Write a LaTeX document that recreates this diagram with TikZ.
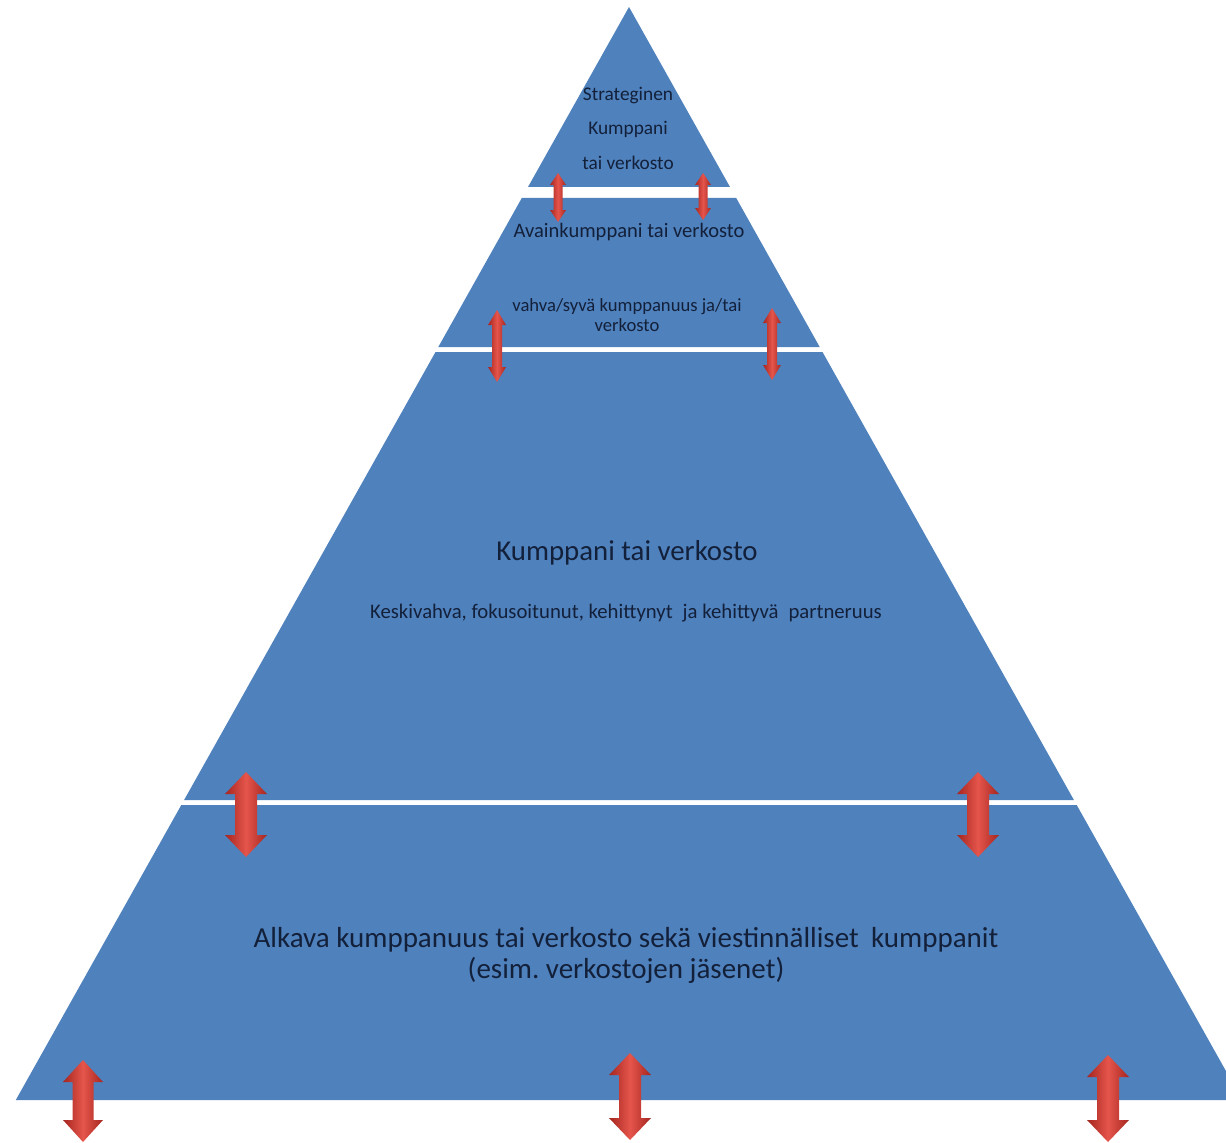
\documentclass[tikz,border=0pt]{standalone}
\usepackage{fontspec}
\setmainfont{Carlito}
\frenchspacing
\definecolor{pyrblue}{HTML}{4F81BD}
\definecolor{txtblue}{HTML}{13203A}
\definecolor{arrdark}{HTML}{A52620}
\definecolor{arrlight}{HTML}{E5554B}
\tikzset{
  layer/.style={fill=pyrblue},
  arrowfill/.style={left color=arrdark, right color=arrdark, middle color=arrlight},
  txt/.style={text=txtblue, inner sep=0pt, align=center},
}
% centre x, top y, bottom y, half head width, half shaft width, head length (pixel units, y downwards)
\newcommand\dblarrow[6]{%
  \shade[arrowfill] (#1,-#2) -- (#1+#4,-#2-#6) -- (#1+#5,-#2-#6) -- (#1+#5,-#3+#6) -- (#1+#4,-#3+#6)
    -- (#1,-#3) -- (#1-#4,-#3+#6) -- (#1-#5,-#3+#6) -- (#1-#5,-#2-#6) -- (#1-#4,-#2-#6) -- cycle;}
\begin{document}
\begin{tikzpicture}[x=0.02cm,y=0.02cm]
\useasboundingbox (0,0) rectangle (1226,-1142);
\clip (0,0) rectangle (1226,-1142);
% layers (half width = 0.561*(y-7))
\fill[layer] (629,-7) -- (730,-187) -- (528,-187) -- cycle;
\fill[layer] (521.8,-198) -- (736.2,-198) -- (819.7,-347) -- (438.3,-347) -- cycle;
\fill[layer] (435.5,-352) -- (822.5,-352) -- (1073.9,-800) -- (184.1,-800) -- cycle;
\fill[layer] (181.3,-805) -- (1076.7,-805) -- (1242.2,-1100) -- (15.8,-1100) -- cycle;
% texts
\node[txt, font=\fontsize{11}{19.6}\selectfont] (t1) at (628,-128) {Strateginen\\Kumppani\\tai verkosto};
\node[txt, font=\fontsize{11.7}{13}\selectfont] (t2) at (629,-232) {Avainkumppani tai verkosto};
\node[txt, font=\fontsize{10.6}{11.4}\selectfont] (t3) at (627,-315) {vahva/syvä kumppanuus ja/tai\\verkosto};
\node[txt, font=\fontsize{16.4}{18}\selectfont] (t4) at (627,-553) {Kumppani tai verkosto};
\node[txt, font=\fontsize{11.8}{13}\selectfont] (t5) at (626,-613) {Keskivahva, fokusoitunut, kehittynyt\hspace{0.25em} ja kehittyvä\hspace{0.25em} partneruus};
\node[txt, font=\fontsize{16.5}{17.6}\selectfont] (t6) at (626,-955) {Alkava kumppanuus tai verkosto sekä viestinnälliset\hspace{0.2em} kumppanit\\(esim. verkostojen jäsenet)};
% arrows
\dblarrow{558}{173}{222}{8}{4.5}{12}
\dblarrow{703}{173}{220}{8}{4.5}{12}
\dblarrow{497}{310}{382}{9}{5}{15}
\dblarrow{772}{308}{380}{9}{5}{15}
\dblarrow{246}{772}{857}{21}{11}{22}
\dblarrow{978}{772}{857}{21}{11}{22}
\dblarrow{83}{1060}{1142}{20}{10.5}{22}
\dblarrow{630}{1053}{1140}{21}{11}{22}
\dblarrow{1108}{1055}{1142}{21}{11}{22}
\end{tikzpicture}
\end{document}
